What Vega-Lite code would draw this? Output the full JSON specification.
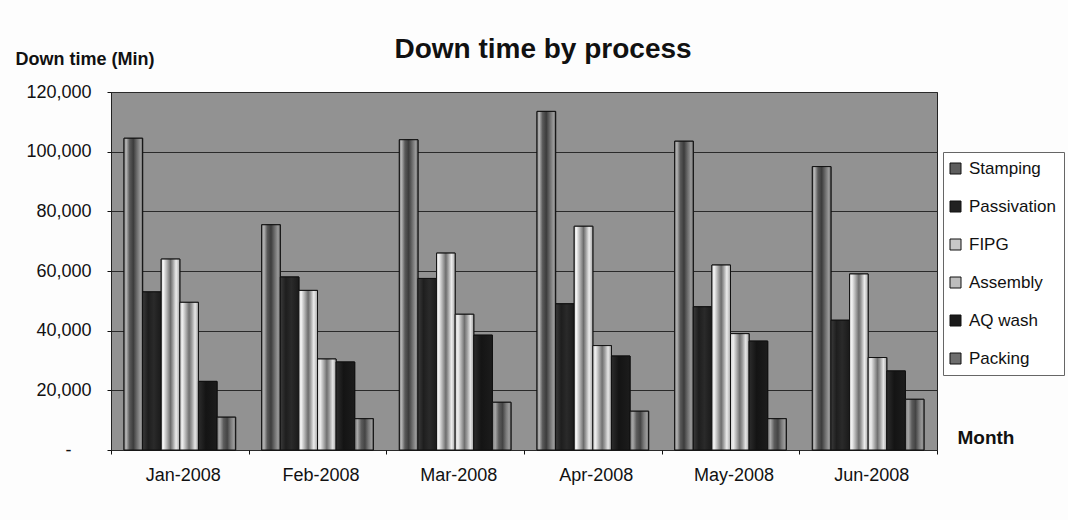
{
  "$schema": "https://vega.github.io/schema/vega-lite/v6.json",
  "width": 826,
  "height": 358,
  "autosize": "none",
  "padding": {"left": 111, "top": 92, "right": 131, "bottom": 70},
  "background": "#fdfdfd",
  "title": {
    "text": "Down time by process",
    "font": "Liberation Sans",
    "fontSize": 28,
    "fontWeight": "bold",
    "color": "#111111",
    "anchor": "middle",
    "frame": "group",
    "baseline": "alphabetic",
    "offset": 33,
    "dx": 19,
    "dy": 69
  },
  "data": {
    "values": [
      {"month": "Jan-2008", "process": "Stamping", "minutes": 104500},
      {"month": "Jan-2008", "process": "Passivation", "minutes": 53000},
      {"month": "Jan-2008", "process": "FIPG", "minutes": 64000},
      {"month": "Jan-2008", "process": "Assembly", "minutes": 49500},
      {"month": "Jan-2008", "process": "AQ wash", "minutes": 23000},
      {"month": "Jan-2008", "process": "Packing", "minutes": 11000},
      {"month": "Feb-2008", "process": "Stamping", "minutes": 75500},
      {"month": "Feb-2008", "process": "Passivation", "minutes": 58000},
      {"month": "Feb-2008", "process": "FIPG", "minutes": 53500},
      {"month": "Feb-2008", "process": "Assembly", "minutes": 30500},
      {"month": "Feb-2008", "process": "AQ wash", "minutes": 29500},
      {"month": "Feb-2008", "process": "Packing", "minutes": 10500},
      {"month": "Mar-2008", "process": "Stamping", "minutes": 104000},
      {"month": "Mar-2008", "process": "Passivation", "minutes": 57500},
      {"month": "Mar-2008", "process": "FIPG", "minutes": 66000},
      {"month": "Mar-2008", "process": "Assembly", "minutes": 45500},
      {"month": "Mar-2008", "process": "AQ wash", "minutes": 38500},
      {"month": "Mar-2008", "process": "Packing", "minutes": 16000},
      {"month": "Apr-2008", "process": "Stamping", "minutes": 113500},
      {"month": "Apr-2008", "process": "Passivation", "minutes": 49000},
      {"month": "Apr-2008", "process": "FIPG", "minutes": 75000},
      {"month": "Apr-2008", "process": "Assembly", "minutes": 35000},
      {"month": "Apr-2008", "process": "AQ wash", "minutes": 31500},
      {"month": "Apr-2008", "process": "Packing", "minutes": 13000},
      {"month": "May-2008", "process": "Stamping", "minutes": 103500},
      {"month": "May-2008", "process": "Passivation", "minutes": 48000},
      {"month": "May-2008", "process": "FIPG", "minutes": 62000},
      {"month": "May-2008", "process": "Assembly", "minutes": 39000},
      {"month": "May-2008", "process": "AQ wash", "minutes": 36500},
      {"month": "May-2008", "process": "Packing", "minutes": 10500},
      {"month": "Jun-2008", "process": "Stamping", "minutes": 95000},
      {"month": "Jun-2008", "process": "Passivation", "minutes": 43500},
      {"month": "Jun-2008", "process": "FIPG", "minutes": 59000},
      {"month": "Jun-2008", "process": "Assembly", "minutes": 31000},
      {"month": "Jun-2008", "process": "AQ wash", "minutes": 26500},
      {"month": "Jun-2008", "process": "Packing", "minutes": 17000}
    ]
  },
  "encoding": {
    "x": {
      "field": "month",
      "type": "nominal",
      "sort": ["Jan-2008", "Feb-2008", "Mar-2008", "Apr-2008", "May-2008", "Jun-2008"],
      "scale": {"paddingInner": 0, "paddingOuter": 0},
      "axis": {
        "title": "Month",
        "titleX": 846,
        "titleY": -7,
        "titleAlign": "left",
        "titleBaseline": "alphabetic",
        "titleFont": "Liberation Sans",
        "titleFontSize": 19,
        "titleFontWeight": "bold",
        "titleColor": "#111111",
        "labelAngle": 0,
        "labelFont": "Liberation Sans",
        "labelFontSize": 18,
        "labelColor": "#111111",
        "labelPadding": 12,
        "labelOffset": 3,
        "tickBand": "extent",
        "tickSize": 4,
        "tickColor": "#111111",
        "domain": false,
        "grid": false
      }
    },
    "xOffset": {
      "field": "process",
      "type": "nominal",
      "scale": {
        "domain": ["Stamping", "Passivation", "FIPG", "Assembly", "AQ wash", "Packing"],
        "paddingInner": 0,
        "paddingOuter": 0.7
      }
    },
    "y": {
      "field": "minutes",
      "type": "quantitative",
      "scale": {"domain": [0, 120000], "nice": false},
      "axis": {
        "title": "Down time (Min)",
        "titleAngle": 0,
        "titleAlign": "left",
        "titleBaseline": "alphabetic",
        "titleX": -96,
        "titleY": -28,
        "titleFont": "Liberation Sans",
        "titleFontSize": 18,
        "titleFontWeight": "bold",
        "titleColor": "#111111",
        "values": [0, 20000, 40000, 60000, 80000, 100000, 120000],
        "labelExpr": "datum.value == 0 ? '-' : format(datum.value, ',')",
        "labelFont": "Liberation Sans",
        "labelFontSize": 18,
        "labelColor": "#111111",
        "labelPadding": {"condition": {"test": "datum.value == 0", "value": 36}, "value": 16},
        "tickSize": 4,
        "tickColor": "#111111",
        "domain": false,
        "grid": true,
        "gridColor": "#2a2a2a",
        "gridWidth": 1
      }
    }
  },
  "layer": [
    {
      "mark": {"type": "bar", "stroke": "#111111", "strokeWidth": 1},
      "encoding": {
        "color": {
          "field": "process",
          "type": "nominal",
          "scale": {
            "domain": ["Stamping", "Passivation", "FIPG", "Assembly", "AQ wash", "Packing"],
            "range": ["#5e5e5e", "#222222", "#c8c8c8", "#bdbdbd", "#1a1a1a", "#6e6e6e"]
          },
          "legend": {
            "title": null,
            "orient": "none",
            "legendX": 832,
            "legendY": 60,
            "direction": "vertical",
            "symbolType": "square",
            "symbolSize": 121,
            "symbolStrokeColor": "#111111",
            "symbolStrokeWidth": 1,
            "symbolOpacity": 1,
            "symbolOffset": -4,
            "labelFont": "Liberation Sans",
            "labelFontSize": 17,
            "labelColor": "#111111",
            "labelOffset": 5,
            "labelLimit": 200,
            "rowPadding": 20,
            "padding": 8,
            "fillColor": "#ffffff",
            "strokeColor": "#666666"
          }
        }
      }
    },
    {
      "transform": [{"filter": "datum.process == 'Stamping'"}],
      "mark": {"type": "bar", "stroke": "#111111", "strokeWidth": 1, "fill": {
        "gradient": "linear", "x1": 0, "y1": 0, "x2": 1, "y2": 0, "stops": [
          {"offset": 0, "color": "#8c8c8c"}, {"offset": 0.12, "color": "#b4b4b4"},
          {"offset": 0.3, "color": "#5a5a5a"}, {"offset": 0.5, "color": "#3c3c3c"},
          {"offset": 0.7, "color": "#6e6e6e"}, {"offset": 0.88, "color": "#9a9a9a"},
          {"offset": 1, "color": "#6a6a6a"}]}}
    },
    {
      "transform": [{"filter": "datum.process == 'Passivation'"}],
      "mark": {"type": "bar", "stroke": "#111111", "strokeWidth": 1, "fill": {
        "gradient": "linear", "x1": 0, "y1": 0, "x2": 1, "y2": 0, "stops": [
          {"offset": 0, "color": "#3a3a3a"}, {"offset": 0.3, "color": "#1e1e1e"},
          {"offset": 0.6, "color": "#2a2a2a"}, {"offset": 1, "color": "#1a1a1a"}]}}
    },
    {
      "transform": [{"filter": "datum.process == 'FIPG'"}],
      "mark": {"type": "bar", "stroke": "#111111", "strokeWidth": 1, "fill": {
        "gradient": "linear", "x1": 0, "y1": 0, "x2": 1, "y2": 0, "stops": [
          {"offset": 0, "color": "#d8d8d8"}, {"offset": 0.12, "color": "#f4f4f4"},
          {"offset": 0.3, "color": "#b4b4b4"}, {"offset": 0.5, "color": "#6c6c6c"},
          {"offset": 0.62, "color": "#9c9c9c"}, {"offset": 0.8, "color": "#ececec"},
          {"offset": 1, "color": "#a8a8a8"}]}}
    },
    {
      "transform": [{"filter": "datum.process == 'Assembly'"}],
      "mark": {"type": "bar", "stroke": "#111111", "strokeWidth": 1, "fill": {
        "gradient": "linear", "x1": 0, "y1": 0, "x2": 1, "y2": 0, "stops": [
          {"offset": 0, "color": "#cfcfcf"}, {"offset": 0.15, "color": "#eeeeee"},
          {"offset": 0.35, "color": "#a6a6a6"}, {"offset": 0.5, "color": "#707070"},
          {"offset": 0.65, "color": "#a0a0a0"}, {"offset": 0.82, "color": "#e6e6e6"},
          {"offset": 1, "color": "#a0a0a0"}]}}
    },
    {
      "transform": [{"filter": "datum.process == 'AQ wash'"}],
      "mark": {"type": "bar", "stroke": "#111111", "strokeWidth": 1, "fill": {
        "gradient": "linear", "x1": 0, "y1": 0, "x2": 1, "y2": 0, "stops": [
          {"offset": 0, "color": "#2c2c2c"}, {"offset": 0.4, "color": "#141414"},
          {"offset": 1, "color": "#1c1c1c"}]}}
    },
    {
      "transform": [{"filter": "datum.process == 'Packing'"}],
      "mark": {"type": "bar", "stroke": "#111111", "strokeWidth": 1, "fill": {
        "gradient": "linear", "x1": 0, "y1": 0, "x2": 1, "y2": 0, "stops": [
          {"offset": 0, "color": "#7a7a7a"}, {"offset": 0.15, "color": "#a8a8a8"},
          {"offset": 0.35, "color": "#5c5c5c"}, {"offset": 0.55, "color": "#444444"},
          {"offset": 0.75, "color": "#7c7c7c"}, {"offset": 0.9, "color": "#9a9a9a"},
          {"offset": 1, "color": "#707070"}]}}
    }
  ],
  "config": {
    "view": {"fill": "#929292", "stroke": "#222222", "strokeWidth": 1}
  }
}
